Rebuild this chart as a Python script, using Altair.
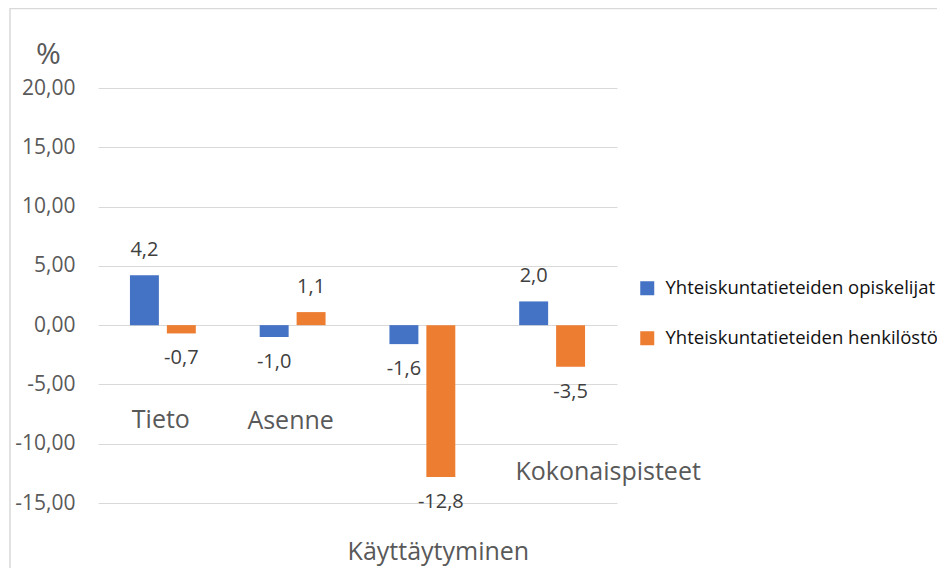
import altair as alt
import pandas as pd

categories = ["Tieto", "Asenne", "Käyttäytyminen", "Kokonaispisteet"]
series = ["Yhteiskuntatieteiden opiskelijat", "Yhteiskuntatieteiden henkilöstö"]
opiskelijat = [4.2, -1.0, -1.6, 2.0]
henkilosto = [-0.7, 1.1, -12.8, -3.5]
y_ticks = [-15, -10, -5, 0, 5, 10, 15, 20]
colors = ["#4472C4", "#ED7D31"]

# placement of the free-floating category labels (layout, not data)
cat_label_y = [-8.0, -8.1, -19.1, -12.4]
cat_label_dx = [-2, -2, 16, 56]

rows = []
for c, a, b in zip(categories, opiskelijat, henkilosto):
    rows.append({"category": c, "series": series[0], "value": a})
    rows.append({"category": c, "series": series[1], "value": b})
df = pd.DataFrame(rows)

MINUS = "\u2212"
x_enc = alt.X("category:N", scale=alt.Scale(domain=categories, paddingInner=0, paddingOuter=0), axis=None)
xo_enc = alt.XOffset("series:N", scale=alt.Scale(domain=series, paddingInner=0.216, paddingOuter=0.865))
y_scale = alt.Scale(domain=[-15, 20], nice=False)

base = alt.Chart(df)

bars = base.mark_bar().encode(
    x=x_enc,
    xOffset=xo_enc,
    y=alt.Y(
        "value:Q",
        scale=y_scale,
        axis=alt.Axis(
            values=y_ticks,
            labelExpr=f"replace(replace(format(datum.value, '.2f'), '.', ','), '{MINUS}', '-')",
            title="%",
            titleAngle=0,
            titleX=-50,
            titleY=-34,
            titleAlign="center",
            titleBaseline="middle",
            titleFontSize=30,
            titleFontWeight="normal",
            titleColor="#595959",
            grid=True,
            gridColor="#d9d9d9",
            gridWidth=1,
            domain=False,
            ticks=False,
            labelPadding=23,
            labelFontSize=21,
            labelColor="#595959",
        ),
    ),
    color=alt.Color(
        "series:N",
        scale=alt.Scale(domain=series, range=colors),
        legend=alt.Legend(
            title=None,
            orient="none",
            legendX=540,
            legendY=191,
            symbolType="square",
            symbolSize=196,
            symbolStrokeWidth=0,
            labelFontSize=18.5,
            labelColor="#111111",
            labelLimit=500,
            labelOffset=9,
            rowPadding=31,
        ),
    ),
)

label_expr = f"replace(replace(format(datum.value, '.1f'), '.', ','), '{MINUS}', '-')"

pos_labels = base.transform_filter("datum.value >= 0").transform_calculate(lbl=label_expr).mark_text(
    dy=-25, fontSize=20, color="#404040", baseline="middle"
).encode(x=x_enc, xOffset=xo_enc, y=alt.Y("value:Q", scale=y_scale), text="lbl:N")

neg_labels = base.transform_filter("datum.value < 0").transform_calculate(lbl=label_expr).mark_text(
    dy=25, fontSize=20, color="#404040", baseline="middle"
).encode(x=x_enc, xOffset=xo_enc, y=alt.Y("value:Q", scale=y_scale), text="lbl:N")

cat_layers = []
for c, yv, dx in zip(categories, cat_label_y, cat_label_dx):
    cat_layers.append(
        alt.Chart(pd.DataFrame({"category": [c], "y": [yv]})).mark_text(
            dx=dx, fontSize=25, color="#595959", baseline="middle"
        ).encode(x=x_enc, y=alt.Y("y:Q", scale=y_scale), text="category:N")
    )

border = alt.Chart(pd.DataFrame({"a": [0]})).mark_rect(
    fill="transparent", stroke="#d9d9d9", strokeWidth=1.5
).encode(x=alt.value(-88), x2=alt.value(2000), y=alt.value(-79.5), y2=alt.value(2000))

chart = alt.layer(border, bars, pos_labels, neg_labels, *cat_layers).properties(
    width=519,
    height=415,
    autosize=alt.AutoSizeParams(type="none"),
    padding={"left": 90, "top": 80, "right": 320, "bottom": 65},
).configure(font="Open Sans").configure_view(stroke=None)

chart.save("out.html", embed_options={"renderer": "svg", "actions": False})
